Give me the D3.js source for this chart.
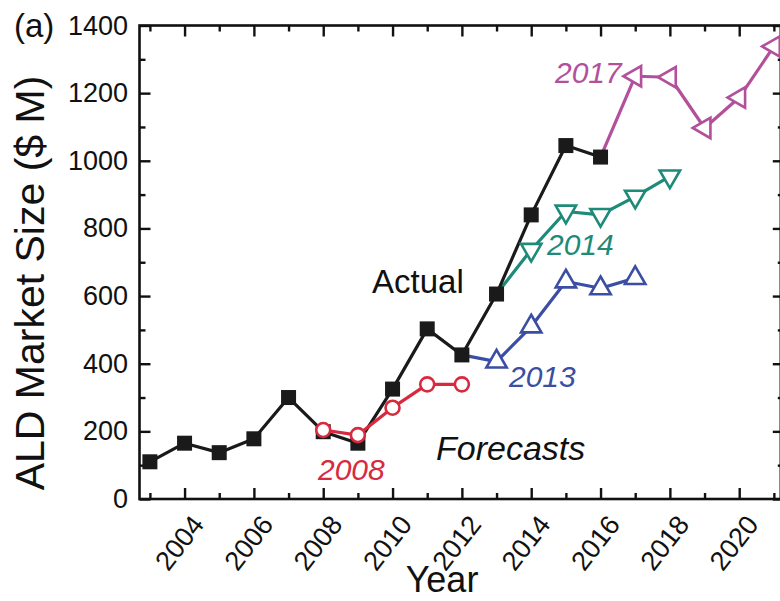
<!DOCTYPE html>
<html>
<head>
<meta charset="utf-8">
<script src="https://cdn.jsdelivr.net/npm/d3@7/dist/d3.min.js"></script>
<style>
  html, body { margin: 0; padding: 0; background: #fff; }
  svg { display: block; font-family: "Liberation Sans", Arial, sans-serif; }
</style>
</head>
<body>
<svg id="chart" width="780" height="601"></svg>
<script>
// ALD market size: actual values and successive forecasts ($ M)
const actualYears = [2003, 2004, 2005, 2006, 2007, 2008, 2009, 2010, 2011, 2012, 2013, 2014, 2015, 2016];
const actualValues = [110, 165, 137, 178, 300, 199, 165, 325, 503, 426, 606, 840, 1045, 1011];

const f2008Years = [2008, 2009, 2010, 2011, 2012];
const f2008Values = [204, 189, 270, 339, 339];

// forecasts that branch off the actual curve (first point is the actual value)
const f2013Years = [2012, 2013, 2014, 2015, 2016, 2017];
const f2013Values = [426, 406, 510, 643, 623, 653];

const f2014Years = [2013, 2014, 2015, 2016, 2017, 2018];
const f2014Values = [606, 737, 850, 840, 894, 954];

const f2017Years = [2016, 2017, 2018, 2019, 2020, 2021];
const f2017Values = [1011, 1250, 1247, 1097, 1187, 1338];

const xTickYears = [2004, 2006, 2008, 2010, 2012, 2014, 2016, 2018, 2020];
const xMinorYears = [2003, 2005, 2007, 2009, 2011, 2013, 2015, 2017, 2019, 2021];
const yTickValues = [0, 200, 400, 600, 800, 1000, 1200, 1400];
const yMinorValues = [100, 300, 500, 700, 900, 1100, 1300];

const colors = {
  actual: "#1a1a1a",
  f2008: "#d82a3e",
  f2013: "#3b4ea3",
  f2014: "#1e8a78",
  f2017: "#b2509c"
};

const svg = d3.select("#chart");
const plotLeft = 139.5, plotRight = 780.8, plotTop = 25.5, plotBottom = 499;

const x = d3.scaleLinear().domain([2002.7, 2021.2]).range([plotLeft, plotRight]);
const y = d3.scaleLinear().domain([0, 1400]).range([plotBottom, plotTop]);

// frame axes with inward ticks
const axisG = svg.append("g");
function tickAxis(axisFn, scale, values, size, transform) {
  axisG.append("g")
    .attr("transform", transform)
    .call(axisFn(scale).tickValues(values).tickSize(size).tickFormat(""))
    .call(g => g.select(".domain").remove())
    .call(g => g.selectAll("line").attr("stroke", "#111").attr("stroke-width", 2.4));
}
tickAxis(d3.axisTop, x, xTickYears, 11, `translate(0,${plotBottom})`);
tickAxis(d3.axisTop, x, xMinorYears, 6, `translate(0,${plotBottom})`);
tickAxis(d3.axisBottom, x, xTickYears, 11, `translate(0,${plotTop})`);
tickAxis(d3.axisBottom, x, xMinorYears, 6, `translate(0,${plotTop})`);
tickAxis(d3.axisRight, y, yTickValues, 11, `translate(${plotLeft},0)`);
tickAxis(d3.axisRight, y, yMinorValues, 6, `translate(${plotLeft},0)`);
tickAxis(d3.axisLeft, y, yTickValues, 8, `translate(${plotRight},0)`);
tickAxis(d3.axisLeft, y, yMinorValues, 3, `translate(${plotRight},0)`);

axisG.append("rect")
  .attr("x", plotLeft).attr("y", plotTop)
  .attr("width", plotRight - plotLeft).attr("height", plotBottom - plotTop)
  .attr("fill", "none").attr("stroke", "#111").attr("stroke-width", 2.6);

// tick labels
axisG.selectAll("text.ylab").data(yTickValues).enter().append("text")
  .attr("class", "ylab")
  .attr("x", 128).attr("y", d => y(d))
  .attr("text-anchor", "end").attr("dominant-baseline", "central")
  .attr("font-size", 27).attr("fill", "#111")
  .text(d => d);

axisG.selectAll("text.xlab").data(xTickYears).enter().append("text")
  .attr("class", "xlab")
  .attr("transform", d => `translate(${x(d) - 5},543) rotate(-52)`)
  .attr("text-anchor", "middle").attr("dominant-baseline", "central")
  .attr("font-size", 27).attr("fill", "#111")
  .text(d => d);

// axis titles
svg.append("text")
  .attr("transform", "translate(44,283) rotate(-90)")
  .attr("text-anchor", "middle")
  .attr("font-size", 41).attr("fill", "#111")
  .text("ALD Market Size ($ M)");

svg.append("text")
  .attr("x", 442).attr("y", 592)
  .attr("text-anchor", "middle")
  .attr("font-size", 36).attr("fill", "#111")
  .text("Year");

svg.append("text")
  .attr("x", 14).attr("y", 37)
  .attr("font-size", 33).attr("fill", "#111")
  .text("(a)");

// series
const line = d3.line().x(d => x(d[0])).y(d => y(d[1]));
const zip = (a, b) => a.map((v, i) => [v, b[i]]);

const plot = svg.append("g");

function drawLine(years, values, color) {
  plot.append("path")
    .datum(zip(years, values))
    .attr("d", line)
    .attr("fill", "none")
    .attr("stroke", color)
    .attr("stroke-width", 3.2)
    .attr("stroke-linejoin", "round");
}

drawLine(f2013Years, f2013Values, colors.f2013);
drawLine(f2014Years, f2014Values, colors.f2014);
drawLine(f2017Years, f2017Values, colors.f2017);
drawLine(actualYears, actualValues, colors.actual);

// actual: filled squares
plot.selectAll("rect.act").data(zip(actualYears, actualValues)).enter().append("rect")
  .attr("class", "act")
  .attr("x", d => x(d[0]) - 7.5).attr("y", d => y(d[1]) - 7.5)
  .attr("width", 15).attr("height", 15)
  .attr("fill", colors.actual);

drawLine(f2008Years, f2008Values, colors.f2008);

// open markers for forecasts
plot.selectAll("circle.f08").data(zip(f2008Years, f2008Values)).enter().append("circle")
  .attr("class", "f08")
  .attr("cx", d => x(d[0])).attr("cy", d => y(d[1]))
  .attr("r", 7)
  .attr("fill", "#fff").attr("stroke", colors.f2008).attr("stroke-width", 2.6);

function triangles(years, values, color, rotation) {
  const tri = d3.symbol().type(d3.symbolTriangle).size(180);
  plot.append("g").selectAll("path").data(zip(years, values).slice(1)).enter().append("path")
    .attr("d", tri)
    .attr("transform", d => `translate(${x(d[0])},${y(d[1])}) rotate(${rotation})`)
    .attr("fill", "#fff").attr("stroke", color).attr("stroke-width", 2.6)
    .attr("stroke-linejoin", "miter");
}
triangles(f2013Years, f2013Values, colors.f2013, 0);
triangles(f2014Years, f2014Values, colors.f2014, 180);
triangles(f2017Years, f2017Values, colors.f2017, -90);

// annotations
const notes = [
  { text: "Actual", x: 372, y: 293, color: "#111", italic: false, size: 33 },
  { text: "Forecasts", x: 436, y: 460, color: "#111", italic: true, size: 34 },
  { text: "2008", x: 318, y: 480, color: colors.f2008, italic: true, size: 30 },
  { text: "2013", x: 509, y: 387, color: colors.f2013, italic: true, size: 30 },
  { text: "2014", x: 547, y: 255, color: colors.f2014, italic: true, size: 30 },
  { text: "2017", x: 555, y: 83, color: colors.f2017, italic: true, size: 30 }
];
svg.selectAll("text.note").data(notes).enter().append("text")
  .attr("class", "note")
  .attr("x", d => d.x).attr("y", d => d.y)
  .attr("font-size", d => d.size)
  .attr("font-style", d => d.italic ? "italic" : "normal")
  .attr("fill", d => d.color)
  .text(d => d.text);
</script>
</body>
</html>
